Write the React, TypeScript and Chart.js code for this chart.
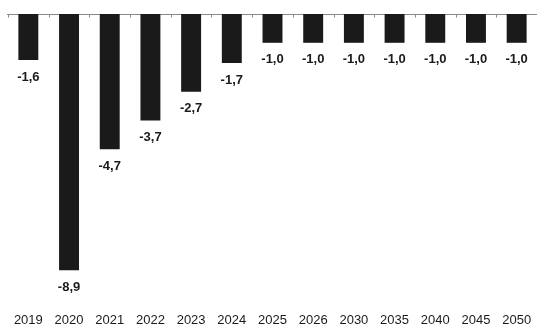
import React, { useEffect, useRef } from "react";
import { Chart, registerables } from "chart.js";

Chart.register(...registerables);

const categories = ["2019", "2020", "2021", "2022", "2023", "2024", "2025", "2026", "2030", "2035", "2040", "2045", "2050"];
const values = [-1.6, -8.9, -4.7, -3.7, -2.7, -1.7, -1.0, -1.0, -1.0, -1.0, -1.0, -1.0, -1.0];

const fmt = (v: number) => v.toFixed(1).replace(".", ",");

const zeroLinePlugin = {
  id: "zeroLine",
  beforeDatasetsDraw(chart: any) {
    const { ctx, chartArea, scales } = chart;
    const y = Math.round(scales.y.getPixelForValue(0)) + 0.5;
    ctx.save();
    ctx.strokeStyle = "#8a8a8a";
    ctx.lineWidth = 1;
    ctx.beginPath();
    ctx.moveTo(chartArea.left - 1, y);
    ctx.lineTo(chartArea.right, y);
    const n = categories.length;
    const half = (scales.x.getPixelForValue(1) - scales.x.getPixelForValue(0)) / 2;
    for (let i = 0; i < n; i++) {
      const x0 = scales.x.getPixelForValue(i);
      const bx = Math.round(x0 - half) + 0.5;
      ctx.moveTo(bx, y);
      ctx.lineTo(bx, y + 3);
    }
    ctx.stroke();
    ctx.restore();
  },
};

const labelPlugin = {
  id: "valueLabels",
  afterDatasetsDraw(chart: any) {
    const { ctx, scales, chartArea } = chart;
    const meta = chart.getDatasetMeta(0);
    ctx.save();
    ctx.fillStyle = "#1a1a1a";
    ctx.font = "bold 13px 'Liberation Sans', Arial, sans-serif";
    ctx.textAlign = "center";
    ctx.textBaseline = "middle";
    meta.data.forEach((bar: any, i: number) => {
      ctx.fillText(fmt(values[i]), bar.x, bar.y + 17);
    });
    ctx.font = "13px 'Liberation Sans', Arial, sans-serif";
    categories.forEach((c, i) => {
      ctx.fillText(c, scales.x.getPixelForValue(i), chartArea.bottom + 18);
    });
    ctx.restore();
  },
};

export default function App() {
  const ref = useRef<HTMLCanvasElement>(null);
  useEffect(() => {
    if (!ref.current) return;
    const chart = new Chart(ref.current, {
      type: "bar",
      data: {
        labels: categories,
        datasets: [
          {
            data: values,
            backgroundColor: "#1a1a1a",
            borderWidth: 0,
            categoryPercentage: 1,
            barPercentage: 0.49,
          },
        ],
      },
      options: {
        animation: false,
        responsive: false,
        maintainAspectRatio: false,
        devicePixelRatio: 1,
        layout: { padding: { top: 14, left: 8, right: 0, bottom: 23 } },
        plugins: { legend: { display: false }, tooltip: { enabled: false } },
        scales: {
          x: {
            display: false,
            offset: true,
          },
          y: {
            display: false,
            min: -10,
            max: 0,
          },
        },
      },
      plugins: [zeroLinePlugin, labelPlugin],
    });
    return () => chart.destroy();
  }, []);
  return (
    <div style={{ position: "fixed", left: 0, top: 0, width: 537, height: 325, background: "#fff" }}>
      <canvas ref={ref} width={537} height={325} style={{ display: "block", width: 537, height: 325 }} />
    </div>
  );
}
